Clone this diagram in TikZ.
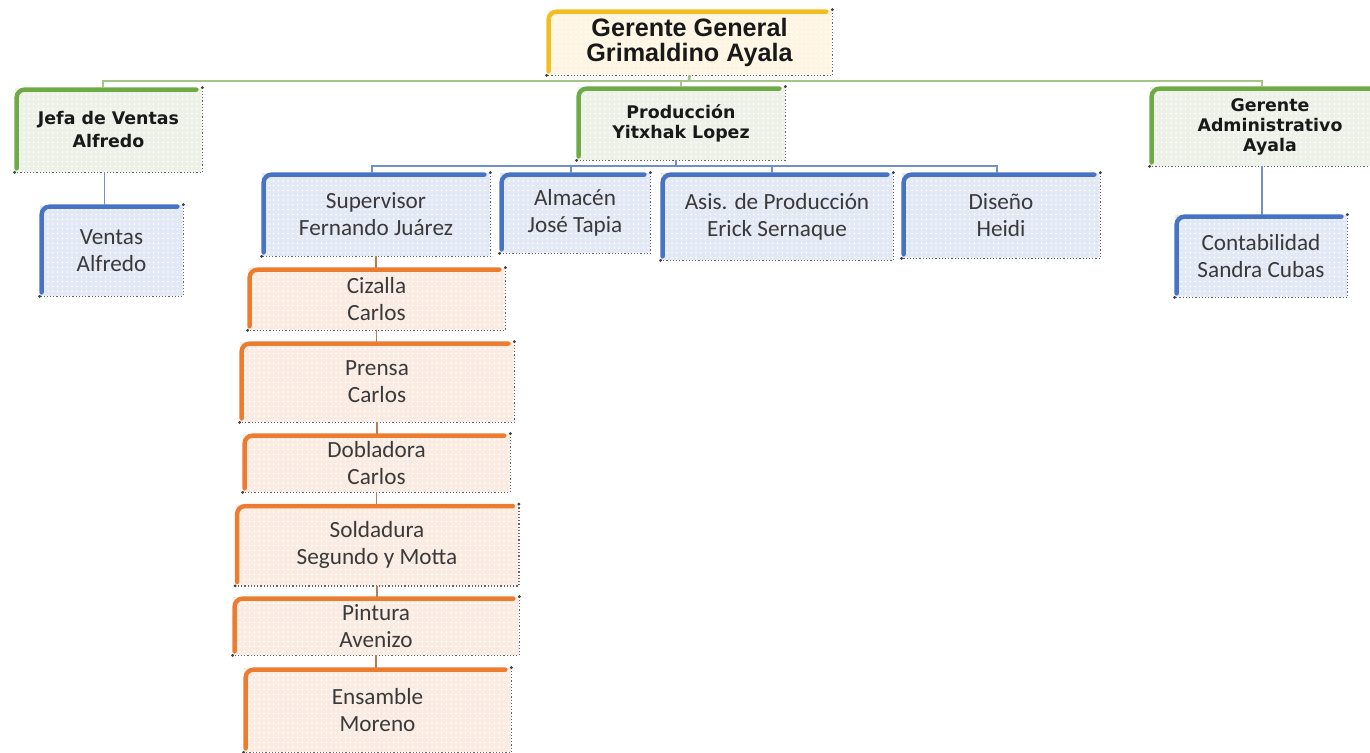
\documentclass[tikz,border=0pt]{standalone}
\usepackage{fontspec}
\setmainfont{Carlito}
\newfontfamily\dvs{DejaVu Sans}
\newfontfamily\lsans{Liberation Sans}
\usetikzlibrary{patterns.meta}

\definecolor{goldc}{HTML}{F2BE22}
\definecolor{goldfill}{HTML}{FFF5E3}
\definecolor{grnc}{HTML}{6EAA45}
\definecolor{grnfill}{HTML}{EDF1E8}
\definecolor{bluc}{HTML}{4673C4}
\definecolor{blufill}{HTML}{E3E8F5}
\definecolor{orgc}{HTML}{EC7C30}
\definecolor{orgfill}{HTML}{FBECE3}
\definecolor{gbus}{HTML}{A3C585}
\definecolor{bbus}{HTML}{7190C8}
\definecolor{txt}{HTML}{3A3A3A}

\tikzset{
  org/.style 2 args={rectangle, inner sep=0pt, align=center,
    minimum width={#1*0.5pt}, minimum height={#2*0.5pt},
    postaction={pattern={Dots[distance=2.4pt, radius=0.45pt]}, pattern color=white}},
  topbox/.style={fill=goldfill, font=\lsans\bfseries\fontsize{12.6}{12.6}\selectfont, text=black!90},
  headbox/.style={fill=grnfill, font=\dvs\bfseries\fontsize{8.7}{11.5}\selectfont, text=black!90},
  staffbox/.style={fill=blufill, font=\fontsize{11.6}{13.5}\selectfont, text=txt},
  stepbox/.style={fill=orgfill, font=\fontsize{11.6}{13.5}\selectfont, text=txt},
  gwire/.style={draw=gbus, line width=1.4pt},
  bwire/.style={draw=bbus, line width=0.9pt},
  owire/.style={draw=orgc!50!gray, line width=0.6pt},
}

\begin{document}
\begin{tikzpicture}[x=0.5pt, y=-0.5pt]
\useasboundingbox (0,0) rectangle (1370,752);

% top level
\node[org={285}{65}, topbox] (gg) at (689.5,42.5) {Gerente General\\Grimaldino Ayala};

% department heads
\node[org={187}{84}, headbox] (jv) at (108.5,130) {Jefa de Ventas\\Alfredo};
\node[org={208}{73}, headbox, font=\dvs\bfseries\fontsize{8.7}{10}\selectfont] (prod) at (681,123.5) {Producción\\Yitxhak Lopez};
\node[org={240}{79}, headbox, font=\dvs\bfseries\fontsize{8.7}{10}\selectfont] (ga) at (1270,126.5) {Gerente\\Administrativo\\Ayala};

% staff
\node[org={143}{91}, staffbox] (ven) at (111.5,250.5) {Ventas\\Alfredo};
\node[org={228}{83}, staffbox] (sup) at (376,214.5) {Supervisor\\Fernando Juárez};
\node[org={150}{80}, staffbox] (alm) at (575,213) {Almacén\\José Tapia};
\node[org={232}{87}, staffbox] (asis) at (777,216.5) {Asis. de Producción\\Erick Sernaque};
\node[org={198}{85}, staffbox] (dis) at (1001,215.5) {Diseño\\Heidi};
\node[org={172}{82}, staffbox] (con) at (1261,256) {Contabilidad\\Sandra Cubas};

% production line
\node[org={257}{62}, stepbox] (ciz) at (376.5,299) {Cizalla\\Carlos};
\node[org={274}{80}, stepbox] (pre) at (377,382) {Prensa\\Carlos};
\node[org={267}{58}, stepbox] (dob) at (376.5,463) {Dobladora\\Carlos};
\node[org={283}{81}, stepbox] (sol) at (377,545) {Soldadura\\Segundo y Motta};
\node[org={286}{58}, stepbox] (pin) at (376,626) {Pintura\\Avenizo};
\node[org={267}{84}, stepbox] (ens) at (377.5,710) {Ensamble\\Moreno};

% box borders: heavy coloured left/top edge, dotted right/bottom edge
\foreach \n/\c in {gg/goldc, jv/grnc, prod/grnc, ga/grnc,
                   ven/bluc, sup/bluc, alm/bluc, asis/bluc, dis/bluc, con/bluc,
                   ciz/orgc, pre/orgc, dob/orgc, sol/orgc, pin/orgc, ens/orgc} {
  \draw[\c, line width=2.2pt, rounded corners=4pt, line cap=round]
    ([xshift=1pt,yshift=2pt]\n.south west) -- ([xshift=1pt,yshift=-1pt]\n.north west)
    -- ([xshift=-3pt,yshift=-1pt]\n.north east);
  \draw[black!60, densely dotted, line width=0.6pt]
    (\n.north east) -- (\n.south east) -- (\n.south west);
  \fill[black!75] (\n.north east) circle (0.8pt) (\n.south west) circle (0.8pt);
}

% management bus
\coordinate (mbus) at (689,81);
\draw[gwire] (gg.south) -- (mbus);
\draw[gwire] ([xshift=-2.75pt]jv.north) -- ([xshift=-2.75pt]jv.north |- mbus)
  -- ([xshift=-4pt]ga.north |- mbus) -- ([xshift=-4pt]ga.north);
\draw[gwire] (prod.north) -- (prod.north |- mbus);

% production bus
\coordinate (pbus) at (676,166);
\draw[bwire] (prod.south -| pbus) -- (pbus);
\draw[bwire] ([xshift=-2pt]sup.north) -- ([xshift=-2pt]sup.north |- pbus)
  -- ([xshift=-2pt]dis.north |- pbus) -- ([xshift=-2pt]dis.north);
\draw[bwire] ([xshift=-2pt]alm.north) -- ([xshift=-2pt]alm.north |- pbus);
\draw[bwire] ([xshift=-2.5pt]asis.north) -- ([xshift=-2.5pt]asis.north |- pbus);

% single reports
\draw[bwire] ([xshift=-2pt]jv.south) -- ([xshift=-2pt]jv.south |- ven.north);
\draw[bwire] ([xshift=-4pt]ga.south) -- ([xshift=-4pt]ga.south |- con.north);

% production line chain
\draw[owire] (sup.south) -- (sup.south |- ciz.north);
\draw[owire] (ciz.south) -- (ciz.south |- pre.north);
\draw[owire] (pre.south) -- (pre.south |- dob.north);
\draw[owire] (dob.south) -- (dob.south |- sol.north);
\draw[owire] (sol.south) -- (sol.south |- pin.north);
\draw[owire] (pin.south) -- (pin.south |- ens.north);
\end{tikzpicture}
\end{document}
